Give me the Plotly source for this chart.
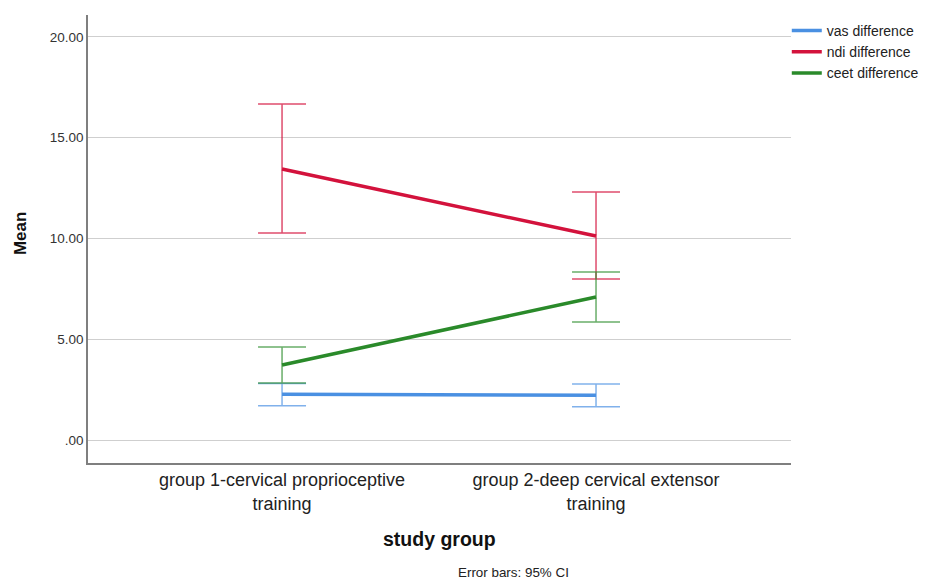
import plotly.graph_objects as go

groups = ["group 1-cervical proprioceptive<br>training", "group 2-deep cervical extensor<br>training"]
xpos = [0, 1]

series_names = ["vas difference", "ndi difference", "ceet difference"]
vas_mean = [2.27, 2.22]
vas_upper = [2.80, 2.78]
vas_lower = [1.70, 1.65]
ndi_mean = [13.45, 10.12]
ndi_upper = [16.67, 12.31]
ndi_lower = [10.27, 7.99]
ceet_mean = [3.72, 7.10]
ceet_upper = [4.62, 8.34]
ceet_lower = [2.83, 5.86]

ytick_vals = [0, 5, 10, 15, 20]
ytick_text = [".00", "5.00", "10.00", "15.00", "20.00"]

line_colors = ["#4a90e2", "#d3123c", "#2a8a2a"]
bar_colors = ["rgba(74,144,226,0.7)", "rgba(211,18,60,0.75)", "rgba(42,138,42,0.7)"]

fig = go.Figure()
for name, m, u, l, lc, bc in [
    (series_names[0], vas_mean, vas_upper, vas_lower, line_colors[0], bar_colors[0]),
    (series_names[1], ndi_mean, ndi_upper, ndi_lower, line_colors[1], bar_colors[1]),
    (series_names[2], ceet_mean, ceet_upper, ceet_lower, line_colors[2], bar_colors[2]),
]:
    fig.add_trace(go.Scatter(
        x=xpos, y=m, mode="lines", name=name,
        line=dict(color=lc, width=3.5),
        error_y=dict(type="data", symmetric=False,
                     array=[a - b for a, b in zip(u, m)],
                     arrayminus=[b - a for a, b in zip(l, m)],
                     color=bc, thickness=1.5, width=24),
    ))

fig.update_layout(
    width=925, height=573,
    margin=dict(l=80, r=142, t=7, b=118),
    paper_bgcolor="white", plot_bgcolor="white",
    font=dict(family="Liberation Sans, Arial, sans-serif", color="#222"),
    showlegend=True,
    legend=dict(x=0.994, y=1.0, xanchor="left", yanchor="top",
                font=dict(size=14, color="#222"), tracegroupgap=0,
                itemwidth=30, bgcolor="rgba(0,0,0,0)"),
    xaxis=dict(range=[-0.618, 1.621], tickvals=xpos, ticktext=groups,
               showgrid=False, zeroline=False, showline=True,
               linecolor="#7f7f7f", linewidth=1.5, ticks="",
               tickfont=dict(size=18, color="#222")),
    yaxis=dict(range=[-1.14, 21.09], tickvals=ytick_vals, ticktext=ytick_text,
               showgrid=True, gridcolor="#cfcfcf", gridwidth=1, zeroline=False,
               showline=True, linecolor="#7f7f7f", linewidth=1.5,
               ticks="", tickfont=dict(size=13.5, color="#333")),
    annotations=[
        dict(text="<b>Mean</b>", x=-0.0967, y=0.511, xref="paper", yref="paper",
             xanchor="center", yanchor="middle",
             textangle=-90, showarrow=False, font=dict(size=17, color="#111")),
        dict(text="<b>study group</b>", x=0.5007, y=-0.1696, xref="paper", yref="paper",
             xanchor="center", yanchor="middle",
             showarrow=False, font=dict(size=19.5, color="#111")),
        dict(text="Error bars: 95% CI", x=0.6046, y=-0.2455, xref="paper", yref="paper",
             xanchor="center", yanchor="middle",
             showarrow=False, font=dict(size=13.4, color="#222")),
    ],
)

fig.write_html("out.html")
